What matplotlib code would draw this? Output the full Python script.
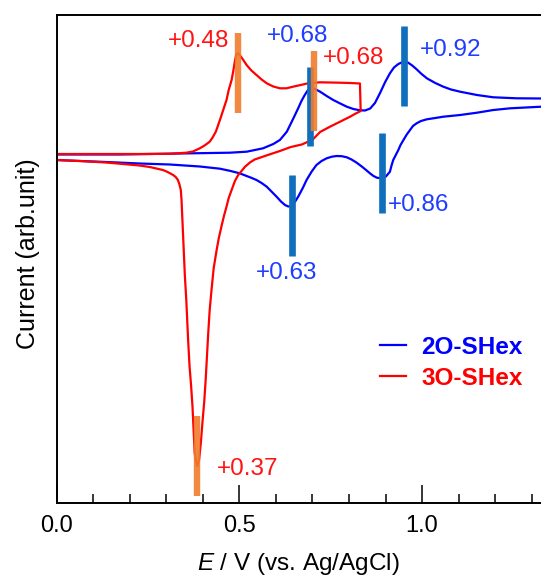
import matplotlib.pyplot as plt
from matplotlib.ticker import MultipleLocator

plt.rcParams['font.family'] = ['Liberation Sans', 'DejaVu Sans']
plt.rcParams['mathtext.fontset'] = 'custom'
plt.rcParams['mathtext.it'] = 'Liberation Sans:italic'
plt.rcParams['mathtext.rm'] = 'Liberation Sans'

# 2O-SHex, anodic sweep (upper branch)
e_2o_fwd = [0.000, 0.173, 0.337, 0.474, 0.520, 0.565, 0.593, 0.611, 0.630, 0.648,
            0.661, 0.670, 0.679, 0.688, 0.698, 0.707, 0.721, 0.739, 0.757, 0.775,
            0.794, 0.812, 0.830, 0.844, 0.858, 0.871, 0.885, 0.899, 0.912, 0.923,
            0.935, 0.949, 0.962, 0.973, 0.985, 0.997, 1.013, 1.036, 1.058, 1.079,
            1.104, 1.150, 1.195, 1.259, 1.326, 1.400]
i_2o_fwd = [0.05, 0.05, 0.15, 0.23, 0.33, 0.67, 1.1, 1.5, 2.33, 3.67,
            4.67, 5.4, 6.0, 6.5, 6.67, 6.6, 6.33, 5.9, 5.5, 5.17,
            4.83, 4.6, 4.47, 4.45, 4.65, 5.2, 6.2, 7.3, 8.17, 8.75,
            9.1, 9.33, 9.23, 8.95, 8.57, 8.15, 7.67, 7.2, 6.83, 6.55,
            6.33, 6.0, 5.77, 5.67, 5.65, 5.6]
# 2O-SHex, cathodic sweep (lower branch)
e_2o_rev = [1.400, 1.326, 1.241, 1.195, 1.150, 1.104, 1.058, 1.036, 1.013, 0.997,
            0.985, 0.975, 0.967, 0.958, 0.949, 0.941, 0.935, 0.928, 0.921, 0.916,
            0.912, 0.901, 0.890, 0.877, 0.867, 0.858, 0.849, 0.835, 0.821, 0.807,
            0.794, 0.780, 0.766, 0.753, 0.739, 0.725, 0.711, 0.698, 0.684, 0.673,
            0.661, 0.652, 0.643, 0.634, 0.625, 0.614, 0.602, 0.588, 0.575, 0.561,
            0.547, 0.533, 0.520, 0.501, 0.474, 0.447, 0.392, 0.310, 0.227, 0.136,
            0.044, 0.000]
i_2o_rev = [4.9, 4.83, 4.67, 4.5, 4.23, 4.0, 3.83, 3.7, 3.57, 3.4,
            3.17, 2.9, 2.5, 2.05, 1.5, 1.0, 0.5, 0.0, -0.5, -1.1,
            -1.67, -2.15, -2.33, -2.28, -2.1, -1.85, -1.57, -1.15, -0.77, -0.45,
            -0.23, -0.12, -0.1, -0.17, -0.33, -0.6, -1.0, -1.65, -2.5, -3.35,
            -4.17, -4.7, -5.1, -5.15, -5.0, -4.65, -4.17, -3.65, -3.17, -2.8,
            -2.5, -2.28, -2.1, -1.83, -1.58, -1.37, -1.15, -0.95, -0.85, -0.7,
            -0.57, -0.5]

# 3O-SHex, anodic sweep
e_3o_fwd = [0.000, 0.227, 0.310, 0.355, 0.373, 0.392, 0.405, 0.419, 0.427, 0.436,
            0.447, 0.456, 0.465, 0.471, 0.479, 0.484, 0.488, 0.492, 0.497, 0.501,
            0.510, 0.520, 0.533, 0.547, 0.561, 0.575, 0.593, 0.611, 0.629, 0.647,
            0.668, 0.688, 0.721, 0.748, 0.775, 0.803, 0.830]
i_3o_fwd = [0.1, 0.1, 0.12, 0.23, 0.35, 0.67, 0.95, 1.33, 1.75, 2.35,
            3.5, 4.5, 5.5, 6.5, 7.5, 8.5, 9.4, 10.1, 10.15, 10.0,
            9.55, 9.0, 8.45, 8.0, 7.55, 7.17, 6.85, 6.67, 6.67, 6.83,
            7.0, 7.17, 7.27, 7.25, 7.23, 7.2, 7.15]
# 3O-SHex, cathodic sweep
e_3o_rev = [0.832, 0.816, 0.803, 0.775, 0.748, 0.721, 0.701, 0.671, 0.641, 0.611,
            0.578, 0.542, 0.529, 0.515, 0.501, 0.497, 0.488, 0.479, 0.471, 0.465,
            0.458, 0.451, 0.444, 0.438, 0.430, 0.424, 0.419, 0.415, 0.411, 0.408,
            0.404, 0.399, 0.395, 0.390, 0.385, 0.382, 0.378, 0.375, 0.372, 0.368,
            0.364, 0.360, 0.355, 0.351, 0.348, 0.344, 0.342, 0.340, 0.336, 0.332,
            0.326, 0.319, 0.304, 0.291, 0.255, 0.227, 0.136, 0.063, 0.000]
i_3o_rev = [4.4, 4.1, 3.83, 3.32, 2.83, 2.3, 1.55, 1.05, 0.8, 0.4,
            0.0, -0.45, -0.75, -1.2, -1.83, -2.0, -2.6, -3.5, -4.3, -5.17,
            -6.1, -7.17, -8.3, -9.5, -11.3, -13.5, -15.5, -17.83, -20.5, -22.5,
            -24.7, -26.83, -28.7, -30.5, -31.1, -30.7, -29.83, -27.5, -25.17, -23.0,
            -21.17, -18.5, -14.5, -12.0, -9.5, -6.17, -4.5, -3.5, -2.9, -2.5,
            -2.2, -2.0, -1.7, -1.5, -1.2, -1.05, -0.75, -0.6, -0.5]

# peak markers: (E, I bottom, I top) and labels
blue_marks = [(0.693, 0.9, 8.83), (0.951, 4.9, 12.9), (0.643, -10.1, -2.0), (0.890, -5.8, 2.2)]
orange_marks = [(0.497, 4.23, 12.23), (0.705, 2.4, 10.43), (0.385, -34.1, -26.1)]
blue_labels = [('+0.68', 0.658, 11.33), ('+0.92', 1.079, 9.9), ('+0.63', 0.630, -12.4), ('+0.86', 0.991, -5.6)]
red_labels = [('+0.48', 0.388, 10.8), ('+0.68', 0.812, 9.1), ('+0.37', 0.522, -32.0)]

fig = plt.figure(figsize=(5.41, 5.77), dpi=100)
ax = fig.add_axes([56.5/541, 74/577, 484.5/541, 488/577])

ax.plot(e_2o_fwd + e_2o_rev, i_2o_fwd + i_2o_rev, color='blue', lw=1.6, label='2O-SHex')
ax.plot(e_3o_fwd + e_3o_rev, i_3o_fwd + i_3o_rev, color='red', lw=1.6, label='3O-SHex')

for x, y0, y1 in blue_marks:
    ax.vlines(x, y0, y1, color='#0f6fbd', lw=4.8, zorder=3)
for x, y0, y1 in orange_marks:
    ax.vlines(x, y0, y1, color='#f07c2c', lw=4.6, alpha=0.9, zorder=4)

for t, x, y in blue_labels:
    ax.text(x, y, t, color='#1f3cff', fontsize=17.5, ha='center', va='baseline')
for t, x, y in red_labels:
    ax.text(x, y, t, color='#ff1414', fontsize=17.5, ha='center', va='baseline')

ax.set_xlim(0, 484.5/365.6)
ax.set_ylim(-34.8, 14.0)
ax.xaxis.set_major_locator(MultipleLocator(0.5))
ax.xaxis.set_minor_locator(MultipleLocator(0.1))
ax.xaxis.set_major_formatter(lambda v, p: f'{v:.1f}')
ax.tick_params(axis='x', which='major', direction='in', length=13, width=1.1, labelsize=17, pad=9)
ax.tick_params(axis='x', which='minor', direction='in', length=6.5, width=1.1)
ax.set_yticks([])
ax.spines['right'].set_visible(False)
for s in ['left', 'top', 'bottom']:
    ax.spines[s].set_linewidth(1.4)

ax.set_xlabel(r'$\it{E}$ / V (vs. Ag/AgCl)', fontsize=17.5, labelpad=10)
ax.set_ylabel('Current (arb.unit)', fontsize=18)
ax.yaxis.set_label_coords(-0.034, 0.51)

ax.legend(loc='upper left', bbox_to_anchor=(0.668, 0.343), frameon=False,
          borderpad=0, borderaxespad=0, handlelength=1.05, handletextpad=0.65,
          labelspacing=0.33, labelcolor='linecolor',
          prop={'weight': 'bold', 'size': 17.5})

fig.savefig('out.png', dpi=100)
